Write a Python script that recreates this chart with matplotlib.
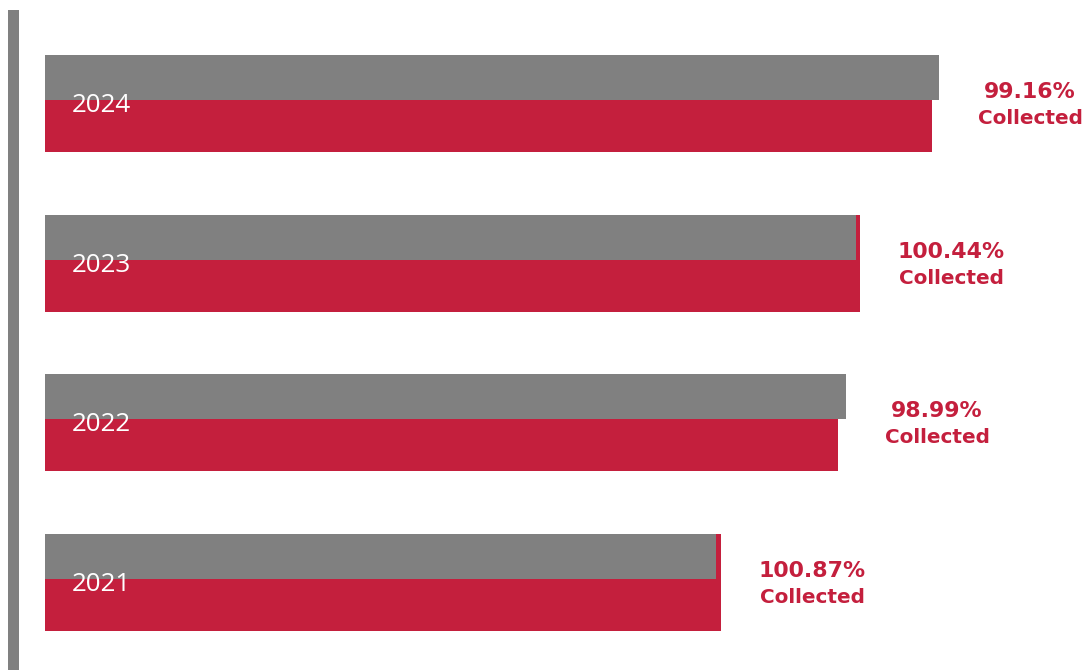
import numpy as np
import matplotlib
matplotlib.use('Agg')
import matplotlib.pyplot as plt
from matplotlib.patches import Rectangle

# data (bar lengths, arbitrary units)
years = ['2021', '2022', '2023', '2024']
levied = [671, 801, 811, 894]
collected = [676, 793, 815, 887]
pct_labels = ['100.87%', '98.99%', '100.44%', '99.16%']

red = '#C41F3D'
gray = '#808080'

# dpi 72 so font sizes in points equal pixels
fig = plt.figure(figsize=(1087 / 72, 670 / 72), dpi=72)
ax = fig.add_axes([45 / 1087, 0, 1 - 45 / 1087, 1])
ax.set_xlim(0, 1042)
step = 159.5
ax.set_ylim(-88 / step, (670 - 88) / step)
ax.axis('off')

y = np.arange(len(years))
h = 97 / step
gh = 45 / step

# red bar full height, gray bar covers the top part
ax.barh(y, collected, height=h, color=red, left=0)
ax.barh(y + h / 2 - gh / 2, levied, height=gh, color=gray, left=0)

for i, yr in enumerate(years):
    ax.text(27, y[i] - 0.015, yr, color='white', fontsize=26, va='center', ha='left',
            family='Open Sans')
    end = max(levied[i], collected[i])
    ax.text(end + 91, y[i] + 0.07, pct_labels[i], color=red, fontsize=22,
            fontweight='bold', ha='center', va='center', family='DejaVu Sans')
    ax.text(end + 91, y[i] - 0.095, 'Collected', color=red, fontsize=20,
            fontweight='bold', ha='center', va='center', family='DejaVu Sans')

# left vertical rule
fig.add_artist(Rectangle((8 / 1087, 0), 11 / 1087, 660 / 670,
                         transform=fig.transFigure, color=gray, lw=0))

fig.savefig('out.png', dpi=72)
